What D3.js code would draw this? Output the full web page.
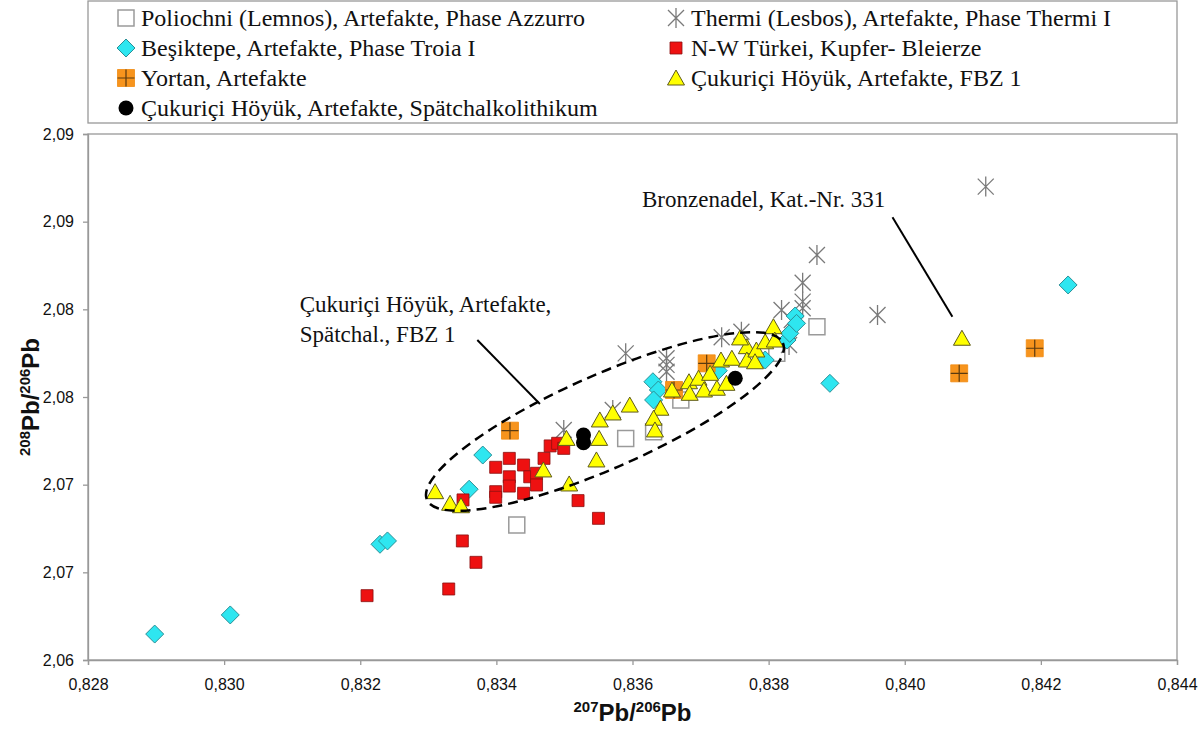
<!DOCTYPE html>
<html>
<head>
<meta charset="utf-8">
<script src="https://cdn.jsdelivr.net/npm/d3@7"></script>
<style>
html,body{margin:0;padding:0;background:#fff;}
svg{display:block;}
</style>
</head>
<body>
<svg id="chart" width="1200" height="734"></svg>
<script>
// ---- data (207Pb/206Pb, 208Pb/206Pb) ----
const poliochni = [[0.83430,2.06770],[0.83590,2.07264],[0.83631,2.07302],[0.83671,2.07483],[0.83812,2.07749],[0.83871,2.07901]];
const thermi = [[0.83499,2.07312],[0.83590,2.07749],[0.83650,2.07721],[0.83650,2.07683],[0.83650,2.07644],[0.83731,2.07841],[0.83760,2.07872],[0.83819,2.07996],[0.83834,2.07939],[0.83850,2.08044],[0.83850,2.08006],[0.83850,2.08152],[0.83871,2.08310],[0.83960,2.07968],[0.84119,2.08700],[0.83571,2.07426],[0.83830,2.07797]];
const besiktepe = [[0.82898,2.06148],[0.83009,2.06257],[0.83229,2.06660],[0.83240,2.06679],[0.83360,2.06974],[0.83380,2.07169],[0.83630,2.07587],[0.83638,2.07540],[0.83631,2.07483],[0.83795,2.07711],[0.83726,2.07650],[0.83827,2.07825],[0.83831,2.07863],[0.83839,2.07962],[0.83841,2.07920],[0.83890,2.07578],[0.84240,2.08139]];
const nwTuerkei = [[0.83210,2.06367],[0.83330,2.06405],[0.83370,2.06557],[0.83350,2.06679],[0.83351,2.06913],[0.83399,2.07099],[0.83419,2.07150],[0.83440,2.07112],[0.83419,2.07045],[0.83419,2.06992],[0.83399,2.06960],[0.83399,2.06928],[0.83440,2.06951],[0.83449,2.07045],[0.83459,2.07065],[0.83459,2.06998],[0.83470,2.07150],[0.83479,2.07221],[0.83490,2.07236],[0.83499,2.07207],[0.83520,2.06909],[0.83550,2.06808]];
const yortan = [[0.83420,2.07308],[0.83661,2.07540],[0.83709,2.07692],[0.84080,2.07635],[0.84191,2.07778]];
const fbz1 = [[0.83310,2.06960],[0.83332,2.06894],[0.83348,2.06880],[0.83469,2.07084],[0.83503,2.07264],[0.83507,2.07004],[0.83552,2.07369],[0.83551,2.07264],[0.83547,2.07141],[0.83571,2.07409],[0.83596,2.07454],[0.83641,2.07436],[0.83631,2.07379],[0.83633,2.07312],[0.83658,2.07540],[0.83683,2.07587],[0.83697,2.07607],[0.83684,2.07521],[0.83705,2.07540],[0.83714,2.07635],[0.83724,2.07550],[0.83738,2.07578],[0.83730,2.07711],[0.83746,2.07721],[0.83768,2.07787],[0.83768,2.07711],[0.83782,2.07768],[0.83780,2.07701],[0.83795,2.07815],[0.83807,2.07901],[0.83809,2.07825],[0.83758,2.07837],[0.84084,2.07835]];
const spaetchal = [[0.83528,2.07283],[0.83528,2.07239],[0.83751,2.07607]];

const seriesNames = ["Poliochni (Lemnos), Artefakte, Phase Azzurro","Thermi (Lesbos), Artefakte, Phase Thermi I","Beşiktepe, Artefakte, Phase Troia I","N-W Türkei, Kupfer- Bleierze","Yortan, Artefakte","Çukuriçi Höyük, Artefakte, FBZ 1","Çukuriçi Höyük, Artefakte, Spätchalkolithikum"];

const xTicks = [0.828,0.830,0.832,0.834,0.836,0.838,0.840,0.842,0.844];
const xTickLabels = ["0,828","0,830","0,832","0,834","0,836","0,838","0,840","0,842","0,844"];
const yTicks = [2.060,2.065,2.070,2.075,2.080,2.085,2.090];
const yTickLabels = ["2,06","2,07","2,07","2,08","2,08","2,09","2,09"];

// annotations (data coordinates)
const ellipseTips = [[0.83298,2.06913],[0.83821,2.07808]];
const bronzeText = "Bronzenadel, Kat.-Nr. 331";
const bronzeTextPos = [0.83614,2.08584];
const bronzeLeader = [[0.83982,2.08525],[0.84070,2.07958]];
const clusterText = ["Çukuriçi Höyük, Artefakte,","Spätchal., FBZ 1"];
const clusterTextPos = [0.83111,2.07985];
const clusterLeader = [[0.83372,2.07825],[0.83464,2.07460]];

// ---- drawing ----
const svg = d3.select("#chart");
const L=88, R=1177, T=134, B=660;
const x = d3.scaleLinear().domain([0.828,0.844]).range([L,R]);
const y = d3.scaleLinear().domain([2.06,2.09]).range([B,T]);

// frame
svg.append("rect").attr("x",L).attr("y",T).attr("width",R-L).attr("height",B-T)
  .attr("fill","none").attr("stroke","#999").attr("stroke-width",1.3);

const ax = svg.append("g").attr("transform",`translate(0,${B})`)
  .call(d3.axisBottom(x).tickValues(xTicks).tickFormat((d,i)=>xTickLabels[i]).tickSize(5).tickPadding(14));
const ay = svg.append("g").attr("transform",`translate(${L},0)`)
  .call(d3.axisLeft(y).tickValues(yTicks).tickFormat((d,i)=>yTickLabels[i]).tickSize(5).tickPadding(9));
[ax,ay].forEach(g=>{
  g.select(".domain").attr("stroke","#999").attr("stroke-width",1.3);
  g.selectAll(".tick line").attr("stroke","#999").attr("stroke-width",1.3);
  g.selectAll(".tick text").attr("font-family","Liberation Sans, Arial, sans-serif").attr("font-size",16).attr("fill","#111");
});

// marker painters
function sqPath(s){const h=s/2;return `M${-h},${-h}H${h}V${h}H${-h}Z`;}
const painters = [
  (g)=>g.append("path").attr("d",sqPath(16)).attr("fill","#fff").attr("stroke","#9a9a9a").attr("stroke-width",1.5),
  (g)=>g.append("path").attr("d","M-8,-8L8,8M-8,8L8,-8M0,-10V10").attr("stroke","#7a7a7a").attr("stroke-width",1.3).attr("fill","none"),
  (g)=>g.append("path").attr("d","M0,-9L9,0L0,9L-9,0Z").attr("fill","#2ee6f0").attr("stroke","#2b8f96").attr("stroke-width",1),
  (g)=>g.append("path").attr("d",sqPath(12)).attr("fill","#ee1111").attr("stroke","#8a1010").attr("stroke-width",0.8),
  (g)=>{g.append("path").attr("d",sqPath(17)).attr("fill","#f7941d").attr("stroke","#f08a10").attr("stroke-width",0.8);
        g.append("path").attr("d","M-8.5,0H8.5M0,-8.5V8.5").attr("stroke","#5a3a10").attr("stroke-width",1.2);},
  (g)=>g.append("path").attr("d","M0,-8L8.5,7L-8.5,7Z").attr("fill","#ffff00").attr("stroke","#5e5a1a").attr("stroke-width",1),
  (g)=>g.append("circle").attr("r",7.5).attr("fill","#000")
];
const allSeries = [poliochni,thermi,besiktepe,nwTuerkei,yortan,fbz1,spaetchal];

const plot = svg.append("g");
allSeries.forEach((data,si)=>{
  plot.selectAll(null).data(data).enter().append("g")
    .attr("transform",d=>`translate(${x(d[0])},${y(d[1])})`)
    .each(function(){painters[si](d3.select(this));});
});

// dashed ellipse
const p1=[x(ellipseTips[0][0]),y(ellipseTips[0][1])], p2=[x(ellipseTips[1][0]),y(ellipseTips[1][1])];
const cx=(p1[0]+p2[0])/2, cy=(p1[1]+p2[1])/2;
const rx=Math.hypot(p2[0]-p1[0],p2[1]-p1[1])/2, ang=Math.atan2(p2[1]-p1[1],p2[0]-p1[0])*180/Math.PI;
svg.append("ellipse").attr("cx",0).attr("cy",0).attr("rx",rx).attr("ry",rx*0.24)
  .attr("transform",`translate(${cx},${cy}) rotate(${ang})`)
  .attr("fill","none").attr("stroke","#000").attr("stroke-width",2.5).attr("stroke-dasharray","10,6");

// annotations
const serif="Liberation Serif, Times New Roman, serif";
svg.append("line").attr("x1",x(bronzeLeader[0][0])).attr("y1",y(bronzeLeader[0][1]))
  .attr("x2",x(bronzeLeader[1][0])).attr("y2",y(bronzeLeader[1][1])).attr("stroke","#000").attr("stroke-width",2);
svg.append("text").attr("x",x(bronzeTextPos[0])).attr("y",y(bronzeTextPos[1]))
  .attr("font-family",serif).attr("font-size",23).attr("fill","#111").text(bronzeText);
svg.append("line").attr("x1",x(clusterLeader[0][0])).attr("y1",y(clusterLeader[0][1]))
  .attr("x2",x(clusterLeader[1][0])).attr("y2",y(clusterLeader[1][1])).attr("stroke","#000").attr("stroke-width",2);
clusterText.forEach((t,i)=>{
  svg.append("text").attr("x",x(clusterTextPos[0])).attr("y",y(clusterTextPos[1])+i*30)
    .attr("font-family",serif).attr("font-size",23).attr("fill","#111").text(t);
});

// axis titles
const xt = svg.append("text").attr("x",(L+R)/2).attr("y",721).attr("text-anchor","middle")
  .attr("font-family","Liberation Sans, Arial, sans-serif").attr("font-weight","bold").attr("fill","#111");
xt.append("tspan").attr("font-size",15).attr("dy",-9).text("207");
xt.append("tspan").attr("font-size",24).attr("dy",9).text("Pb/");
xt.append("tspan").attr("font-size",15).attr("dy",-9).text("206");
xt.append("tspan").attr("font-size",24).attr("dy",9).text("Pb");
const yt = svg.append("text").attr("transform",`translate(39,${(T+B)/2}) rotate(-90)`).attr("text-anchor","middle")
  .attr("font-family","Liberation Sans, Arial, sans-serif").attr("font-weight","bold").attr("fill","#111");
yt.append("tspan").attr("font-size",15).attr("dy",-9).text("208");
yt.append("tspan").attr("font-size",24).attr("dy",9).text("Pb/");
yt.append("tspan").attr("font-size",15).attr("dy",-9).text("206");
yt.append("tspan").attr("font-size",24).attr("dy",9).text("Pb");

// legend
svg.append("rect").attr("x",L).attr("y",1).attr("width",R-L).attr("height",122)
  .attr("fill","#fff").attr("stroke","#999").attr("stroke-width",1.3);
const legCols=[126,676], legRows=[18,48,78,108];
seriesNames.forEach((name,i)=>{
  const cxl=legCols[i%2], cyl=legRows[Math.floor(i/2)];
  const g=svg.append("g").attr("transform",`translate(${cxl},${cyl})`);
  painters[i](g);
  svg.append("text").attr("x",cxl+15).attr("y",cyl+8).attr("font-family",serif).attr("font-size",24).attr("fill","#111").text(name);
});
</script>
</body>
</html>
